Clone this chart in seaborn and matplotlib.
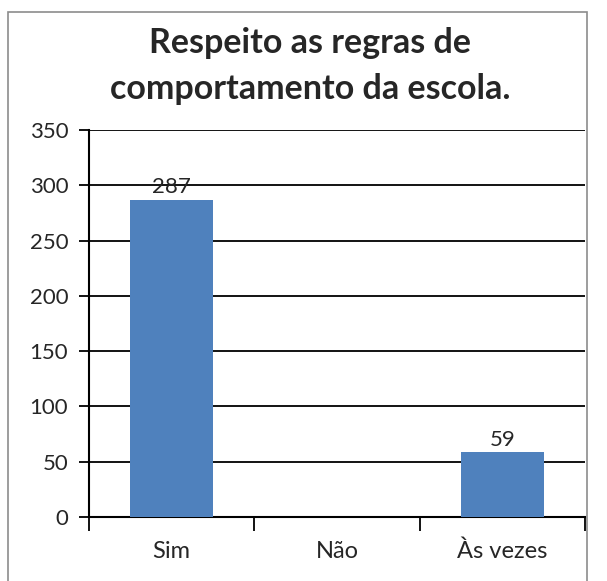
import matplotlib
matplotlib.use("Agg")
import matplotlib.pyplot as plt
import seaborn as sns
import pandas as pd
from matplotlib.patches import Rectangle

categories = ["Sim", "Não", "Às vezes"]
values = [287, 0, 59]
y_ticks = [0, 50, 100, 150, 200, 250, 300, 350]
title = "Respeito as regras de\ncomportamento da escola."

sns.set_style("white")
plt.rcParams["font.family"] = ["Lato", "DejaVu Sans"]

df = pd.DataFrame({"categoria": categories, "valor": values})

fig = plt.figure(figsize=(6.07, 5.81), dpi=100)
ax = fig.add_axes([89 / 607, 1 - 517 / 581, (585 - 89) / 607, (517 - 130) / 581])

sns.barplot(data=df, x="categoria", y="valor", color="#4F81BD", saturation=1,
            width=0.5, ax=ax, zorder=3, linewidth=0, edgecolor="none")

ax.set_ylim(0, 350)
ax.set_xlim(-0.5, 2.5)
ax.set_yticks(y_ticks)
ax.set_yticklabels([str(t) for t in y_ticks], fontsize=16)
ax.yaxis.grid(True, color="black", linewidth=1.3, zorder=0)
ax.set_axisbelow(True)

# category ticks sit on the boundaries between groups
ax.set_xticks([-0.5, 0.5, 1.5, 2.5], minor=False)
ax.set_xticklabels([])
ax.set_xticks(range(len(categories)), minor=True)
ax.set_xticklabels(categories, minor=True, fontsize=17)
ax.tick_params(axis="x", which="major", direction="out", length=10, width=1.3,
               color="black", bottom=True)
ax.tick_params(axis="x", which="minor", length=0, pad=17)
ax.tick_params(axis="y", direction="out", length=7, width=1.3, color="black",
               left=True, pad=8)

ax.set_xlabel("")
ax.set_ylabel("")
for side in ["top", "right"]:
    ax.spines[side].set_visible(False)
for side in ["left", "bottom"]:
    ax.spines[side].set_color("black")
    ax.spines[side].set_linewidth(1.5)

for i, v in enumerate(values):
    if v > 0:
        ax.text(i, v + 2, str(v), ha="center", va="bottom", fontsize=16)

fig.text(310 / 607, 1 - 66 / 581, title, ha="center", va="center",
         fontsize=24.5, fontweight="bold", linespacing=1.55)

# chart-area frame
fig.patches.append(Rectangle((8 / 607, -0.1), (587 - 8) / 607, 1.1 - 12 / 581,
                             transform=fig.transFigure, fill=False,
                             edgecolor="#8c8c8c", linewidth=1.2))

fig.savefig("out.png", dpi=100)
